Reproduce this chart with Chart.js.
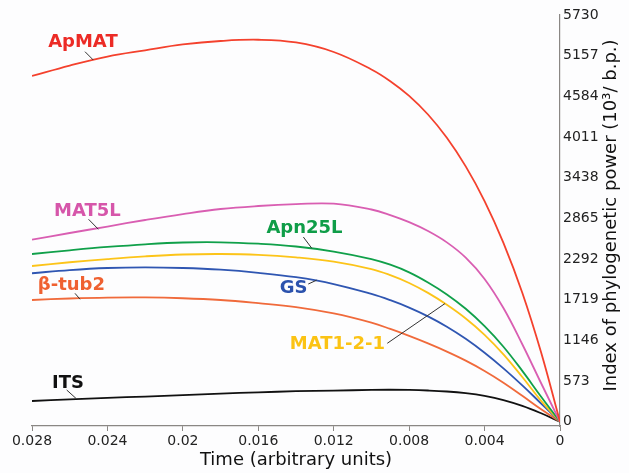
<!DOCTYPE html>
<html>
<head>
<meta charset="utf-8">
<script src="https://cdn.jsdelivr.net/npm/chart.js@4.4.1/dist/chart.umd.min.js"></script>
<style>
    html, body { margin: 0; padding: 0; background: #fdfdfe; }
    #wrap { width: 629px; height: 473px; }
</style>
</head>
<body>
<div id="wrap"><canvas id="piChart" width="629" height="473"></canvas></div>
<script>
// Tempo (unidades arbitrárias), do mais antigo ao presente
const times = [0.028, 0.026, 0.024, 0.022, 0.020, 0.018, 0.016, 0.014, 0.012, 0.010,
               0.009, 0.008, 0.007, 0.006, 0.005, 0.004, 0.003, 0.002, 0.001, 0];

const apmat   = [4871, 5018, 5145, 5233, 5315, 5364, 5381, 5343, 5209, 4963, 4798, 4591, 4328, 4000, 3597, 3109, 2521, 1818, 975, 0];
const mat5l   = [2564, 2659, 2750, 2842, 2926, 2997, 3039, 3065, 3072, 2990, 2912, 2812, 2687, 2527, 2312, 2012, 1602, 1092, 542, 0];
const apn25l  = [2363, 2415, 2462, 2500, 2525, 2528, 2508, 2469, 2398, 2292, 2212, 2105, 1962, 1794, 1592, 1347, 1057, 717, 352, 0];
const mat121  = [2194, 2247, 2292, 2330, 2356, 2363, 2352, 2316, 2255, 2150, 2065, 1955, 1815, 1648, 1455, 1225, 950, 630, 295, 0];
const gs      = [2092, 2137, 2166, 2175, 2166, 2142, 2098, 2036, 1940, 1800, 1712, 1608, 1484, 1338, 1168, 972, 752, 512, 257, 0];
const btub2   = [1715, 1736, 1749, 1751, 1740, 1715, 1670, 1615, 1525, 1395, 1307, 1209, 1103, 988, 861, 716, 551, 366, 176, 0];
const its     = [292, 316, 337, 355, 376, 397, 414, 430, 438, 449, 451, 448, 440, 426, 402, 364, 306, 224, 119, 0];

const xTicks = [0.028, 0.024, 0.02, 0.016, 0.012, 0.008, 0.004, 0];
const yTicks = [0, 573, 1146, 1719, 2292, 2865, 3438, 4011, 4584, 5157, 5730];

const FONT = "'DejaVu Sans', 'Noto Sans', sans-serif";

// Rótulos das curvas (posição em coordenadas de dados) e linhas de chamada
const curveLabels = [
    { text: 'ApMAT',    color: '#ec2b26', t: 0.02530, v: 5350, line: [0.02519, 5213, 0.02475, 5096] },
    { text: 'MAT5L',    color: '#d656aa', t: 0.02506, v: 2959, line: [0.02500, 2852, 0.02448, 2711] },
    { text: 'Apn25L',   color: '#0f9d48', t: 0.01355, v: 2729, line: [0.01361, 2602, 0.01316, 2443] },
    { text: 'GS',       color: '#2b52ad', t: 0.01413, v: 1884, line: [0.01335, 1940, 0.01290, 1995] },
    { text: '\u03b2-tub2', color: '#ef6131', t: 0.02591, v: 1926, line: [0.02572, 1809, 0.02545, 1725] },
    { text: 'MAT1-2-1', color: '#fbc314', t: 0.01180, v: 1095, line: [0.00916, 1105, 0.00610, 1665] },
    { text: 'ITS',      color: '#111111', t: 0.02609, v: 541,  line: [0.02616, 447, 0.02567, 330] }
];

function toPoints(values) {
    return times.map((t, i) => ({ x: t, y: values[i] }));
}

const series = [
    { label: 'ApMAT', data: apmat, color: '#f4412d' },
    { label: 'MAT5L', data: mat5l, color: '#d95eb2' },
    { label: 'Apn25L', data: apn25l, color: '#10a04a' },
    { label: 'MAT1-2-1', data: mat121, color: '#fcc419' },
    { label: 'GS', data: gs, color: '#2f56b2' },
    { label: 'β-tub2', data: btub2, color: '#f06a3b' },
    { label: 'ITS', data: its, color: '#111111' }
];

const labelPlugin = {
    id: 'curveLabels',
    afterDatasetsDraw(chart) {
        const ctx = chart.ctx;
        const xs = chart.scales.x;
        const ys = chart.scales.y;
        ctx.save();
        // linhas de chamada
        ctx.strokeStyle = '#333';
        ctx.lineWidth = 1;
        curveLabels.forEach(l => {
            ctx.beginPath();
            ctx.moveTo(xs.getPixelForValue(l.line[0]), ys.getPixelForValue(l.line[1]));
            ctx.lineTo(xs.getPixelForValue(l.line[2]), ys.getPixelForValue(l.line[3]));
            ctx.stroke();
        });
        // textos
        ctx.font = 'bold 18px ' + FONT;
        ctx.textAlign = 'center';
        ctx.textBaseline = 'middle';
        curveLabels.forEach(l => {
            ctx.fillStyle = l.color;
            ctx.fillText(l.text, xs.getPixelForValue(l.t), ys.getPixelForValue(l.v));
        });
        // título do eixo y (lido de baixo para cima)
        const area = chart.chartArea;
        ctx.translate(chart.width - 18, (area.top + area.bottom) / 2 - 5);
        ctx.rotate(-Math.PI / 2);
        ctx.fillStyle = '#111';
        ctx.font = '18px ' + FONT;
        ctx.fillText('Index of phylogenetic power (10\u00b3/ b.p.)', 0, 0);
        ctx.restore();
    }
};

const ctx = document.getElementById('piChart').getContext('2d');

new Chart(ctx, {
    type: 'line',
    data: {
        datasets: series.map(s => ({
            label: s.label,
            data: toPoints(s.data),
            borderColor: s.color,
            borderWidth: 1.8,
            pointRadius: 0,
            fill: false,
            tension: 0.4
        }))
    },
    options: {
        responsive: false,
        animation: false,
        events: [],
        layout: { padding: { left: 32, top: 15, right: 0, bottom: 0 } },
        plugins: {
            legend: { display: false },
            tooltip: { enabled: false }
        },
        scales: {
            x: {
                type: 'linear',
                reverse: true,
                min: 0,
                max: 0.028,
                afterBuildTicks: scale => { scale.ticks = xTicks.map(v => ({ value: v })); },
                afterFit: scale => { scale.height = 47; },
                border: { display: true, color: '#8a8784', width: 1.2 },
                grid: { drawOnChartArea: false, drawTicks: true, tickLength: 5, color: '#8a8784' },
                ticks: {
                    color: '#222',
                    font: { family: FONT, size: 14 },
                    padding: 2,
                    maxRotation: 0,
                    callback: v => String(v)
                },
                title: {
                    display: true,
                    text: 'Time (arbitrary units)',
                    color: '#111',
                    font: { family: FONT, size: 18 },
                    padding: { top: 0, bottom: 2 }
                }
            },
            y: {
                type: 'linear',
                position: 'right',
                min: -60,
                max: 5730,
                afterBuildTicks: scale => { scale.ticks = yTicks.map(v => ({ value: v })); },
                afterFit: scale => { scale.width = 69; },
                border: { display: true, color: '#8a8784', width: 1.2 },
                grid: { drawOnChartArea: false, drawTicks: false },
                ticks: {
                    color: '#222',
                    font: { family: FONT, size: 14 },
                    padding: 3,
                    callback: v => String(v)
                }
            }
        }
    },
    plugins: [labelPlugin]
});
</script>
</body>
</html>
